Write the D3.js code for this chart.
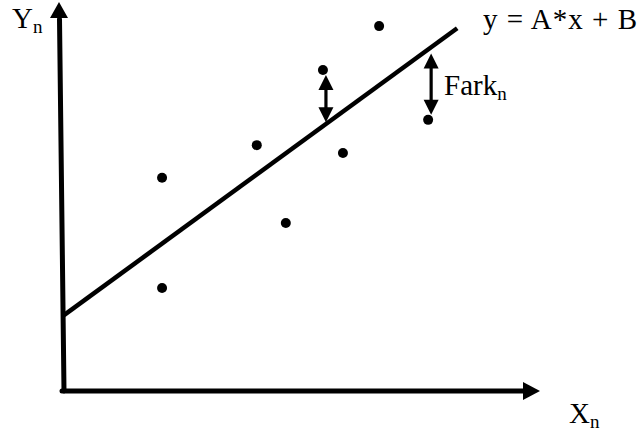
<!DOCTYPE html>
<html>
<head>
<meta charset="utf-8">
<script src="https://cdn.jsdelivr.net/npm/d3@7"></script>
<style>
  html, body { margin: 0; padding: 0; background: #fff; }
  svg { display: block; }
</style>
</head>
<body>
<script>
// Observations (X_n, Y_n) in plot units
const xs = [2.06, 2.06, 4.05, 4.66, 5.44, 5.86, 6.62, 7.65];
const ys = [5.48, 2.65, 6.32, 4.32, 8.25, 6.12, 9.38, 6.97];
// Fitted line y = A*x + B
const A = 0.893;
const B = 1.95;
const lineEnd = 8.26;
// Observations whose residual (Fark_n) is marked with a double arrow
const residualIdx = [4, 7];
// Labels
const yLabel = ["Y", "n"];
const xLabel = ["X", "n"];
const fitLabel = "y = A*x + B";
const residLabel = ["Fark", "n"];

const FONT = "'Liberation Serif', 'Times New Roman', Times, 'DejaVu Serif', serif";
const W = 644, H = 436;
const svg = d3.select("body").append("svg").attr("width", W).attr("height", H);

const x = d3.scaleLinear().domain([0, 10]).range([64, 540]);
const y = d3.scaleLinear().domain([0, 10]).range([391, 2]);

// Axes with arrowheads
const ax = svg.append("g");
ax.append("path")
  .attr("d", `M${x(0)},${y(0)} L${x(0) - 4.5},${y(0) - 372}`)
  .attr("stroke", "#000").attr("stroke-width", 5).attr("fill", "none")
  .attr("stroke-linecap", "round");
ax.append("path")
  .attr("d", `M${x(0) - 14},${y(0) - 373} L${x(0) - 5},${y(0) - 389} L${x(0) + 4},${y(0) - 373} Z`)
  .attr("fill", "#000");
ax.append("path")
  .attr("d", `M${x(0) - 2},${y(0)} L${x(10) - 16},${y(0)}`)
  .attr("stroke", "#000").attr("stroke-width", 5).attr("fill", "none")
  .attr("stroke-linecap", "round");
ax.append("path")
  .attr("d", `M${x(10) - 17},${y(0) - 9} L${x(10)},${y(0)} L${x(10) - 17},${y(0) + 9} Z`)
  .attr("fill", "#000");

// Fitted line
svg.append("line")
  .attr("x1", x(0)).attr("y1", y(B))
  .attr("x2", x(lineEnd)).attr("y2", y(A * lineEnd + B))
  .attr("stroke", "#000").attr("stroke-width", 4.5);

// Observation points
svg.append("g").selectAll("circle")
  .data(xs.map((v, i) => [v, ys[i]]))
  .join("circle")
  .attr("cx", d => x(d[0])).attr("cy", d => y(d[1]))
  .attr("r", 5).attr("fill", "#000");

// Residual double arrows: from just off the fitted line to just off the point
const res = svg.append("g").selectAll("g")
  .data(residualIdx.map(i => {
    const yl = y(A * xs[i] + B), yp = y(ys[i]);
    const s = Math.sign(yp - yl);
    return { cx: x(xs[i]) + 3, a: yl + s * 4, b: yp - s * 5, s };
  }))
  .join("g");
const hw = 7.5, hh = 15;
res.append("line")
  .attr("x1", d => d.cx).attr("x2", d => d.cx)
  .attr("y1", d => d.a + d.s * (hh - 2)).attr("y2", d => d.b - d.s * (hh - 2))
  .attr("stroke", "#000").attr("stroke-width", 3.2);
res.append("path")
  .attr("d", d => `M${d.cx},${d.a} L${d.cx - hw},${d.a + d.s * hh} L${d.cx + hw},${d.a + d.s * hh} Z`)
  .attr("fill", "#000");
res.append("path")
  .attr("d", d => `M${d.cx},${d.b} L${d.cx - hw},${d.b - d.s * hh} L${d.cx + hw},${d.b - d.s * hh} Z`)
  .attr("fill", "#000");

// Labels
function subLabel(parts, px, py, big, small, dy) {
  const t = svg.append("text").attr("x", px).attr("y", py)
    .attr("font-family", FONT).attr("font-size", big).attr("fill", "#000");
  t.append("tspan").text(parts[0]);
  t.append("tspan").attr("font-size", small).attr("dy", dy).text(parts[1]);
  return t;
}
subLabel(yLabel, 12, 28, 29, 19, 5);
subLabel(xLabel, 569, 423, 29, 19, 5);
subLabel(residLabel, 444, 95, 29, 19, 5);
svg.append("text").attr("x", 483).attr("y", 29)
  .attr("font-family", FONT).attr("font-size", 29).attr("fill", "#000")
  .attr("textLength", 154).attr("lengthAdjust", "spacing").text(fitLabel);
</script>
</body>
</html>
